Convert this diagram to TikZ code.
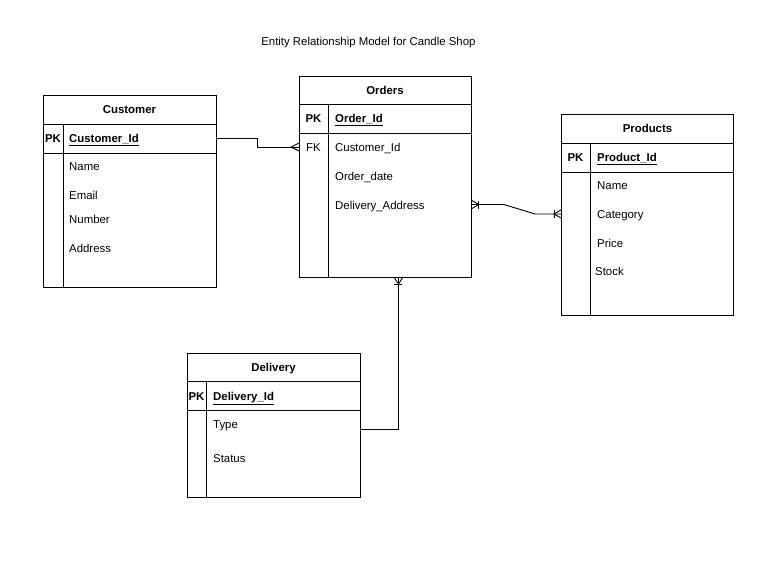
\documentclass[tikz,border=0pt]{standalone}
\usepackage{fontspec}
\setmainfont{Liberation Sans}
\usetikzlibrary{calc}
\tikzset{
  tbl/.style={draw, line width=0.9pt, anchor=north west, inner sep=0pt},
  tline/.style={line width=0.9pt},
  conn/.style={line width=0.9pt},
  txt/.style={inner sep=0pt, text height=8.2pt, text depth=0pt},
  hd/.style={txt, font=\fontsize{11.4}{13}\selectfont\bfseries},
  pkl/.style={txt, font=\fontsize{11.4}{13}\selectfont\bfseries},
  fkl/.style={txt, font=\fontsize{11.4}{13}\selectfont},
  keyl/.style={txt, anchor=west, font=\fontsize{11.4}{13}\selectfont\bfseries},
  attr/.style={txt, anchor=west, font=\fontsize{11.4}{13}\selectfont},
  ttl/.style={txt, font=\fontsize{11.4}{13}\selectfont}
}
\begin{document}
\begin{tikzpicture}[x=1pt, y=-1pt]
\fill[white] (0,0) rectangle (778,565);
\useasboundingbox (0,0) rectangle (778,565);

\node[ttl] (title) at (368.4,41) {Entity Relationship Model for Candle Shop};

% Customer
\node[tbl, minimum width=173pt, minimum height=192pt] (cust) at (43,95) {};
\draw[tline] ($(cust.north west)+(0,29)$) -- ($(cust.north east)+(0,29)$);
\draw[tline] ($(cust.north west)+(0,58)$) -- ($(cust.north east)+(0,58)$);
\draw[tline] ($(cust.north west)+(20,29)$) -- ($(cust.south west)+(20,0)$);
\node[hd] (custt) at (129.5,109.5) {Customer};
\node[pkl] (custpk) at (53,138) {PK};
\node[keyl] (custid) at (69,138) {\underline{Customer\_Id}};
\node[attr] (custn) at (69,166) {Name};
\node[attr] (custe) at (69,195) {Email};
\node[attr] (custnum) at (69,219) {Number};
\node[attr] (custa) at (69,248) {Address};

% Orders
\node[tbl, minimum width=172pt, minimum height=201pt] (ord) at (299,76) {};
\draw[tline] ($(ord.north west)+(0,28)$) -- ($(ord.north east)+(0,28)$);
\draw[tline] ($(ord.north west)+(0,57)$) -- ($(ord.north east)+(0,57)$);
\draw[tline] ($(ord.north west)+(29,28)$) -- ($(ord.south west)+(29,0)$);
\node[hd] (ordt) at (385,90) {Orders};
\node[pkl] (ordpk) at (313.5,118) {PK};
\node[keyl] (ordid) at (335,118) {\underline{Order\_Id}};
\node[fkl] (ordfk) at (313.5,147) {FK};
\node[attr] (ordcid) at (335,147) {Customer\_Id};
\node[attr] (orddate) at (335,176) {Order\_date};
\node[attr] (ordaddr) at (335,205) {Delivery\_Address};

% Products
\node[tbl, minimum width=172pt, minimum height=201pt] (prod) at (561,114) {};
\draw[tline] ($(prod.north west)+(0,29)$) -- ($(prod.north east)+(0,29)$);
\draw[tline] ($(prod.north west)+(0,58)$) -- ($(prod.north east)+(0,58)$);
\draw[tline] ($(prod.north west)+(29,29)$) -- ($(prod.south west)+(29,0)$);
\node[hd] (prodt) at (647.5,128.5) {Products};
\node[pkl] (prodpk) at (575.5,157) {PK};
\node[keyl] (prodid) at (597,157) {\underline{Product\_Id}};
\node[attr] (prodn) at (597,185) {Name};
\node[attr] (prodc) at (597,214) {Category};
\node[attr] (prodp) at (597,243) {Price};
\node[attr] (prods) at (595,271) {Stock};

% Delivery
\node[tbl, minimum width=173pt, minimum height=144pt] (del) at (187,353) {};
\draw[tline] ($(del.north west)+(0,28)$) -- ($(del.north east)+(0,28)$);
\draw[tline] ($(del.north west)+(0,57)$) -- ($(del.north east)+(0,57)$);
\draw[tline] ($(del.north west)+(19,28)$) -- ($(del.south west)+(19,0)$);
\node[hd] (delt) at (273.5,367) {Delivery};
\node[pkl] (delpk) at (196.5,396) {PK};
\node[keyl] (delid) at (213,396) {\underline{Delivery\_Id}};
\node[attr] (deltype) at (213,424) {Type};
\node[attr] (delstat) at (213,458) {Status};

% Connector Customer -> Orders (many)
\coordinate (e1) at (ord.west |- ordcid);
\draw[conn] (cust.east |- custid) -- ++(41,0) |- (e1);
\draw[conn] (e1) ++(0,-4) -- ++(-8,4) -- ++(8,4);

% Connector Orders <-> Products (one or many both ends)
\coordinate (e2) at ($(ord.east |- ordaddr)+(0,-0.5)$);
\coordinate (e3) at (prod.west |- prodc);
\draw[conn] (e2) -- ++(32,0) -- ($(e3)+(-26,0)$) -- (e3);
\draw[conn] (e2) ++(0,-4) -- ++(7,4) -- ++(-7,4);
\draw[conn] ($(e2)+(7,-4)$) -- ++(0,8);
\draw[conn] (e3) ++(0,-4) -- ++(-7,4) -- ++(7,4);
\draw[conn] ($(e3)+(-7,-4)$) -- ++(0,8);

% Connector Delivery -> Orders (one or many)
\coordinate (e4) at ($(del.east)+(0,4)$);
\coordinate (e5) at ($(ord.south)+(13,0)$);
\draw[conn] (e4) -| (e5);
\draw[conn] (e5) ++(-4,0) -- ++(4,6) -- ++(4,-6);
\draw[conn] ($(e5)+(-4,7)$) -- ++(8,0);
\end{tikzpicture}
\end{document}
